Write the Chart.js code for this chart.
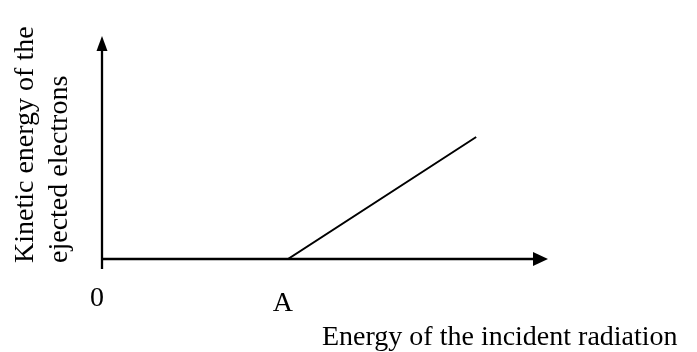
<!DOCTYPE html>
<html>
<head>
<meta charset="utf-8">
<script src="https://cdn.jsdelivr.net/npm/chart.js@4"></script>
<style>
  html, body { margin: 0; padding: 0; background: #fff; }
  canvas { display: block; }
</style>
</head>
<body>
<canvas id="chart" width="697" height="352"></canvas>
<script>
// axis ranges (arbitrary units, no numbered ticks in the figure)
const xMax = 10;
const yMax = 10;

// tick marks shown under the x axis
const tickValues = [0, 4.17];
const tickLabels = ['0', 'A'];

// kinetic energy: zero until threshold A, then rises linearly
const energyX = [0, 4.17, 8.39];
const kineticY = [0, 0, 5.47];

const xTitle = 'Energy of the incident radiation';
const yTitle = ['Kinetic energy of the', 'ejected electrons'];

const FONT = '28px "Liberation Serif", "Times New Roman", serif';

function arrowHead(ctx, x, y, dir) {
  // dir: 'up' or 'right'
  ctx.beginPath();
  if (dir === 'up') {
    ctx.moveTo(x, y);
    ctx.lineTo(x - 5.5, y + 15);
    ctx.lineTo(x + 5.5, y + 15);
  } else {
    ctx.moveTo(x, y);
    ctx.lineTo(x - 15, y - 7);
    ctx.lineTo(x - 15, y + 7);
  }
  ctx.closePath();
  ctx.fill();
}

const axesPlugin = {
  id: 'axesPlugin',
  afterDraw(chart) {
    const ctx = chart.ctx;
    const xs = chart.scales.x;
    const ys = chart.scales.y;
    const x0 = xs.getPixelForValue(0);
    const y0 = ys.getPixelForValue(0);
    const xEnd = xs.getPixelForValue(xMax);
    const yEnd = ys.getPixelForValue(yMax);

    ctx.save();
    ctx.strokeStyle = '#000';
    ctx.fillStyle = '#000';
    ctx.lineWidth = 2.3;

    // y axis (runs a little below the x axis)
    ctx.beginPath();
    ctx.moveTo(x0, y0 + 10);
    ctx.lineTo(x0, yEnd + 12);
    ctx.stroke();
    arrowHead(ctx, x0, yEnd, 'up');

    // x axis
    ctx.beginPath();
    ctx.moveTo(x0, y0);
    ctx.lineTo(xEnd - 12, y0);
    ctx.stroke();
    arrowHead(ctx, xEnd, y0, 'right');

    // tick labels
    ctx.font = FONT;
    ctx.textAlign = 'center';
    ctx.textBaseline = 'alphabetic';
    tickValues.forEach((v, i) => {
      const px = xs.getPixelForValue(v);
      ctx.fillText(tickLabels[i], px - 5, y0 + (i === 0 ? 47 : 52));
    });

    // x title
    ctx.textAlign = 'left';
    ctx.fillText(xTitle, x0 + 220, y0 + 86);

    // y title, rotated
    ctx.save();
    ctx.translate(0, y0 + 4);
    ctx.rotate(-Math.PI / 2);
    ctx.fillText(yTitle[0], 0, 33);
    ctx.fillText(yTitle[1], 0, 67);
    ctx.restore();

    ctx.restore();
  }
};

new Chart(document.getElementById('chart'), {
  type: 'scatter',
  data: {
    datasets: [{
      label: 'Kinetic energy',
      data: energyX.map((x, i) => ({ x, y: kineticY[i] })),
      showLine: true,
      borderColor: '#000',
      borderWidth: 2,
      pointRadius: 0,
      fill: false,
      tension: 0
    }]
  },
  options: {
    responsive: false,
    animation: false,
    events: [],
    layout: { padding: { left: 102, right: 149, top: 36, bottom: 93 } },
    plugins: {
      legend: { display: false },
      tooltip: { enabled: false },
      title: { display: false }
    },
    scales: {
      x: { type: 'linear', min: 0, max: xMax, display: false },
      y: { type: 'linear', min: 0, max: yMax, display: false }
    }
  },
  plugins: [axesPlugin]
});
</script>
</body>
</html>
